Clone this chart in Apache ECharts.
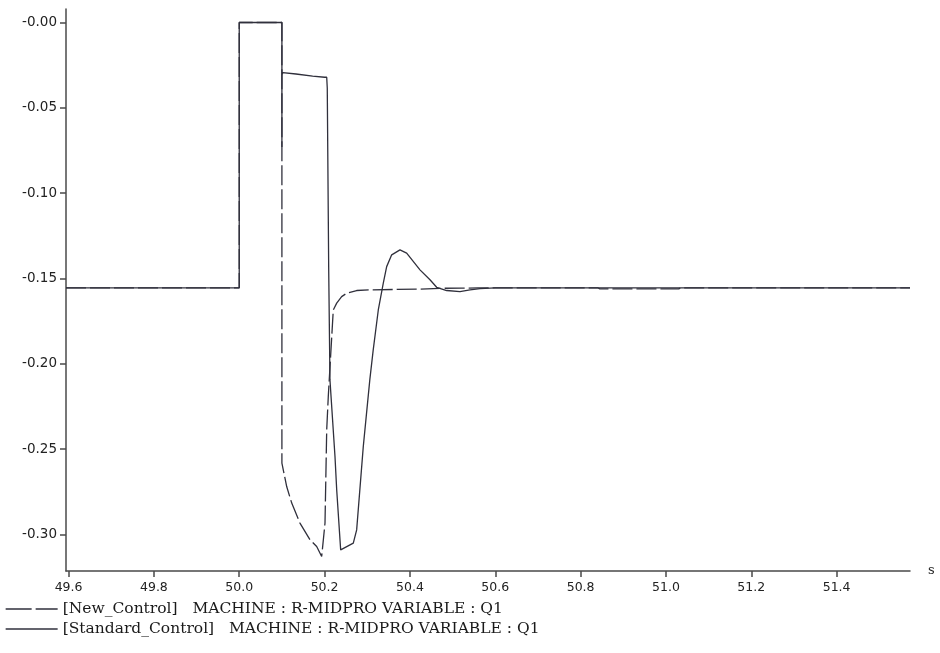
<!DOCTYPE html>
<html>
<head>
<meta charset="utf-8">
<script src="https://cdn.jsdelivr.net/npm/echarts@6/dist/echarts.min.js"></script>
<style>
html,body{margin:0;padding:0;background:#fff;}
#chart{width:940px;height:653px;}
</style>
</head>
<body>
<div id="chart"></div>
<script>
// ---- data ----
var seriesNames = [
  '[New_Control]   MACHINE : R-MIDPRO VARIABLE : Q1',
  '[Standard_Control]   MACHINE : R-MIDPRO VARIABLE : Q1'
];
var newTime = [49.594, 50.0, 50.0, 50.1, 50.1, 50.1112, 50.123, 50.1423, 50.1658, 50.1815, 50.1932, 50.201, 50.205, 50.2087, 50.2204, 50.2284, 50.24, 50.2518, 50.2752, 50.3064, 50.4236, 50.47, 50.52, 50.56, 50.6, 50.84, 50.845, 51.03, 51.035, 51.572];
var newValue = [-0.1555, -0.1555, 0, 0, -0.2583, -0.272, -0.2817, -0.2934, -0.3032, -0.3071, -0.313, -0.2934, -0.2388, -0.2192, -0.1685, -0.1645, -0.1607, -0.1587, -0.1571, -0.1567, -0.1563, -0.1558, -0.1557, -0.1556, -0.1555, -0.1555, -0.1561, -0.1561, -0.1555, -0.1555];
var stdTime = [49.594, 50.0, 50.0, 50.1, 50.1, 50.1, 50.102, 50.133, 50.172, 50.2, 50.205, 50.2063, 50.2096, 50.2126, 50.2244, 50.2284, 50.2377, 50.2673, 50.2752, 50.2907, 50.306, 50.314, 50.3259, 50.3376, 50.3455, 50.3573, 50.3767, 50.3924, 50.4236, 50.447, 50.4627, 50.4862, 50.5173, 50.5408, 50.5642, 50.6, 51.572];
var stdValue = [-0.1555, -0.1555, 0, 0, -0.073, -0.0306, -0.0294, -0.0302, -0.0315, -0.0321, -0.0321, -0.0384, -0.143, -0.2095, -0.2544, -0.2739, -0.3091, -0.3052, -0.2974, -0.2486, -0.2095, -0.1919, -0.1685, -0.1528, -0.1431, -0.1362, -0.1333, -0.1352, -0.145, -0.1508, -0.1552, -0.1571, -0.1577, -0.1567, -0.156, -0.1555, -0.1555];
var xTicks = [49.6, 49.8, 50.0, 50.2, 50.4, 50.6, 50.8, 51.0, 51.2, 51.4];
var yTicks = [0, -0.05, -0.10, -0.15, -0.20, -0.25, -0.30];
var xRange = [49.594, 51.572];
var yRange = [-0.3215, 0.0079];

function zip(a, b) { return a.map(function (t, i) { return [t, b[i]]; }); }

var lineColor = '#30303c';
var axisColor = '#4a4a4a';
var dashNew = [20, 4];

var chart = echarts.init(document.getElementById('chart'), null, {renderer: 'canvas'});
chart.setOption({
  animation: false,
  backgroundColor: '#ffffff',
  grid: {left: 66, top: 9, right: 30, bottom: 82, containLabel: false},
  legend: {
    orient: 'vertical',
    left: 5,
    top: 601,
    padding: 0,
    itemWidth: 52,
    itemHeight: 14,
    itemGap: 4,
    itemStyle: {opacity: 0},
    selectedMode: false,
    textStyle: {fontFamily: '"DejaVu Serif", serif', fontSize: 15.5, lineHeight: 15, color: '#1a1a1a'},
    data: [
      {name: seriesNames[0], lineStyle: {type: [26, 4], width: 1.3, color: lineColor}},
      {name: seriesNames[1], lineStyle: {type: 'solid', width: 1.3, color: lineColor}}
    ]
  },
  xAxis: {
    type: 'value',
    min: xRange[0],
    max: xRange[1],
    name: 's',
    nameLocation: 'end',
    nameGap: 18,
    nameTextStyle: {fontFamily: '"DejaVu Serif", serif', fontSize: 13, color: '#222', padding: [2, 0, 0, 0]},
    axisLine: {show: true, onZero: false, lineStyle: {color: axisColor, width: 1.5}},
    axisTick: {show: true, length: 6, inside: false, customValues: xTicks, lineStyle: {color: axisColor, width: 1.5}},
    axisLabel: {
      customValues: xTicks,
      margin: 10,
      fontFamily: '"DejaVu Sans", sans-serif',
      fontSize: 12.5,
      color: '#222',
      formatter: function (v) { return v.toFixed(1); }
    },
    splitLine: {show: false}
  },
  yAxis: {
    type: 'value',
    min: yRange[0],
    max: yRange[1],
    axisLine: {show: true, onZero: false, lineStyle: {color: axisColor, width: 1.5}},
    axisTick: {show: true, length: 6, inside: false, customValues: yTicks, lineStyle: {color: axisColor, width: 1.5}},
    axisLabel: {
      customValues: yTicks,
      margin: 9,
      fontFamily: '"DejaVu Sans", sans-serif',
      fontSize: 13.5,
      color: '#222',
      formatter: function (v) { return '-' + Math.abs(v).toFixed(2); }
    },
    splitLine: {show: false}
  },
  series: [
    {
      name: seriesNames[0],
      type: 'line',
      data: zip(newTime, newValue),
      showSymbol: false,
      symbol: 'none',
      lineStyle: {color: lineColor, width: 1.3, type: dashNew},
      itemStyle: {color: lineColor},
      z: 3
    },
    {
      name: seriesNames[1],
      type: 'line',
      data: zip(stdTime, stdValue),
      showSymbol: false,
      symbol: 'none',
      lineStyle: {color: lineColor, width: 1.3, type: 'solid'},
      itemStyle: {color: lineColor},
      z: 2
    }
  ]
});
</script>
</body>
</html>
